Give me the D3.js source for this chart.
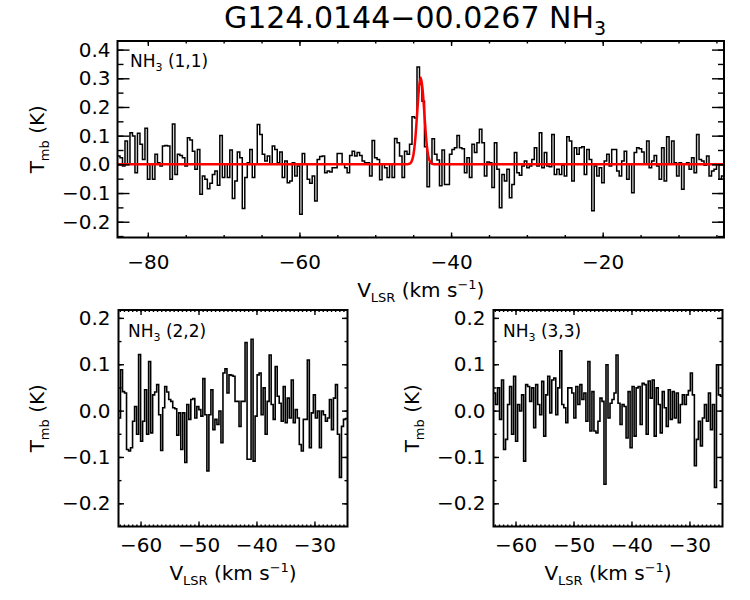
<!DOCTYPE html>
<html><head><meta charset="utf-8">
<script src="https://cdn.jsdelivr.net/npm/d3@7"></script>
<style>
body{margin:0;background:#fff}
text{font-family:"DejaVu Sans",sans-serif;fill:#000}
</style></head>
<body><svg id="c" width="750" height="600"></svg>
<script>
// ---------- data ----------
const title = "G124.0144\u221200.0267 NH";
// NH3 (1,1): channels from -84 to -4 km/s
const v11Range = [-84, -4];
const t11 = [
0.029,0.023,-0.006,0.081,0,0.110,0.099,-0.029,0.108,0.070,0.017,0.126,-0.052,0,-0.052,0.035,0.006,-0.006,0.064,0.066,
0.064,-0.052,0.141,-0.035,0.035,0.031,0.023,-0.006,0.093,0.085,0.046,-0.017,0.052,-0.104,-0.041,-0.052,-0.085,-0.066,-0.035,-0.023,
-0.073,0.101,-0.046,0,-0.046,0.050,-0.119,-0.058,0.043,0.023,-0.154,-0.046,0.006,0.052,-0.046,0,0.139,0.104,0.035,0.012,
0.029,0,0.064,0.052,0.006,0.043,-0.046,0.012,-0.064,-0.058,0.006,-0.041,-0.006,-0.174,0.038,0,-0.052,-0.066,-0.041,-0.128,
0.017,0.027,0.029,-0.029,-0.023,
-0.027,-0.012,-0.012,0.038,0.038,0,-0.012,-0.029,0.031,0.046,0.029,0.041,0.031,0.012,0.006,0.006,-0.041,0.083,0.023,0.017,
-0.054,0,-0.012,-0.046,0,-0.046,0.090,0.075,0.029,-0.046,0.046,0.035,0.070,0.166,0.162,0.339,0.278,0.220,0.061,-0.078,
0.006,0.089,0.035,0.015,-0.075,0.050,-0.070,-0.070,0.035,0.052,0.058,0.101,0.058,0.054,-0.029,0.023,-0.046,0.070,0.041,0.075,
0.122,0.075,-0.041,0.008,0.006,-0.081,0.075,-0.017,-0.151,-0.035,-0.058,-0.017,-0.116,-0.070,0.041,-0.029,-0.038,-0.006,0.012,-0.012,
-0.006,0.017,0.058,-0.006,0.110,-0.012,0.041,-0.006,-0.008,0.104,-0.035,-0.017,-0.035,-0.003,-0.041,0.096,0.081,-0.058,0.058,0.035,
0.058,0.061,-0.035,0.052,0.017,-0.162,-0.006,-0.041,-0.012,-0.064,0.012,0.035,-0.006,0.052,0.052,-0.023,-0.041,0.012,0.046,-0.052,
0,-0.099,0.041,0.058,0.054,0.043,0,0.081,-0.012,0.012,0.031,-0.006,-0.052,0.058,-0.058,0.096,0,0.081,0.006,-0.041,
0.006,-0.087,0,0.006,-0.017,0.023,-0.029,0.104,0.017,0.012,-0.003,0.029,-0.041,-0.023,-0.017,0,-0.052,-0.041
];
// Gaussian fit to NH3 (1,1)
const fitV = [-84,-46,-45.5,-45.25,-45,-44.75,-44.5,-44.25,-44,-43.75,-43.5,-43.25,-43,-42.75,-42.5,-42,-4];
const fitT = [0,0,0.002,0.008,0.028,0.08,0.168,0.26,0.303,0.26,0.168,0.08,0.028,0.008,0.002,0,0];

// NH3 (2,2) and (3,3): channels from -63.8 to -24.3 km/s
const vLowRange = [-63.8, -24.3];
const t22 = [
-0.016,0.088,0.041,0.038,-0.084,-0.087,-0.080,-0.023,0.009,-0.051,0.121,-0.066,-0.023,0.045,-0.051,0.106,-0.048,0.034,0.040,0.056,
-0.009,-0.086,0.006,0.052,0.040,0.024,0.020,0.006,0.004,-0.053,-0.005,-0.084,-0.005,-0.112,0.013,-0.019,0.024,0.026,-0.016,0.009,
0.002,-0.012,0.069,-0.009,-0.130,-0.009,0.045,-0.041,-0.019,-0.030,-0.001,-0.069,0.081,0.090,0.038,0.077,0.076,0.074,0.020,0.020,
-0.034,0.020,0.020,0.147,-0.105,-0.105,0.154,-0.109,-0.012,0.077,0.081,-0.009,0.049,-0.051,0.020,0.120,0.013,-0.019,0.095,0.031,
0.016,-0.023,0.052,-0.026,0.027,-0.016,0.066,-0.026,0.002,-0.016,-0.073,-0.087,-0.019,-0.019,0.109,-0.080,-0.005,0.034,-0.016,-0.001,
-0.080,-0.001,-0.009,-0.023,-0.016,0.024,-0.041,0.027,0.056,-0.051,-0.144,-0.034,-0.019,-0.017
];
const t33 = [
0.038,0.013,0.049,-0.019,0.066,-0.084,-0.062,0.013,0.052,-0.051,0.074,-0.066,0.013,-0.001,0.034,-0.109,0.056,0.052,0.020,0.049,
-0.037,0.056,0.013,-0.009,0.063,-0.055,0.034,0.074,-0.005,0.066,0.070,-0.009,0.049,0.129,0.013,0.006,-0.026,0.049,0.049,0.038,
-0.016,0.052,0.013,0.056,0.024,0.038,-0.023,0.106,-0.044,0.041,-0.044,-0.048,-0.023,0.027,0.020,-0.159,0.099,-0.016,0.016,0.024,
0.038,0.120,0.016,-0.030,0.013,0.009,-0.059,0.041,-0.080,0.052,-0.055,0.049,0.052,-0.030,0.059,0.056,-0.051,0.064,0.027,0.066,
-0.055,0.049,0.013,-0.048,0.041,0.006,-0.034,0.045,-0.019,0.041,-0.016,0.038,-0.026,0.013,0.034,0.013,0.034,0.043,0.081,0.034,
-0.119,-0.062,-0.023,-0.076,-0.016,0.013,-0.023,0.038,-0.041,0.013,-0.166,0.099,0.034,0.031
];

const xTicksTop = [-80,-60,-40,-20];
const yTicksTop = [0.4,0.3,0.2,0.1,0.0,-0.1,-0.2];
const xTicksLow = [-60,-50,-40,-30];
const yTicksLow = [0.2,0.1,0.0,-0.1,-0.2];

// ---------- drawing ----------
const svg = d3.select("#c");
const FONT = "DejaVu Sans";

function stepPoints(vals, range){
  const n = vals.length, dv = (range[1]-range[0])/n;
  const pts = vals.map((t,i)=>[range[0]+i*dv, t]);
  pts.push([range[1], vals[n-1]]);
  return pts;
}

function panel(o){
  const x = d3.scaleLinear().domain(o.xDomain).range([o.x0, o.x0+o.w]);
  const y = d3.scaleLinear().domain(o.yDomain).range([o.y0+o.h, o.y0]);
  const id = "clip"+o.id;
  svg.append("clipPath").attr("id",id).append("rect")
    .attr("x",o.x0).attr("y",o.y0).attr("width",o.w).attr("height",o.h);
  const g = svg.append("g");
  const plot = g.append("g").attr("clip-path",`url(#${id})`);
  plot.append("path").datum(stepPoints(o.data, o.vRange))
    .attr("fill","none").attr("stroke","#000").attr("stroke-width",o.lw)
    .attr("d", d3.line().x(d=>x(d[0])).y(d=>y(d[1])).curve(d3.curveStepAfter));
  if (o.fitV){
    plot.append("path").datum(o.fitV.map((v,i)=>[v,o.fitT[i]]))
      .attr("fill","none").attr("stroke","#ff0000").attr("stroke-width",2.5)
      .attr("d", d3.line().x(d=>x(d[0])).y(d=>y(d[1])).curve(d3.curveMonotoneX));
  }
  const xMinor = d3.range(-100, 0.001, o.xMinorStep).filter(v=>v>o.xDomain[0]&&v<o.xDomain[1]);
  const yMinor = d3.range(-0.3, 0.5, 0.05).filter(v=>v>o.yDomain[0]&&v<o.yDomain[1]);
  const style = s => s.attr("font-size",o.fs).attr("font-family",FONT)
      .call(a=>a.select(".domain").remove())
      .call(a=>a.selectAll("line").attr("stroke","#000").attr("stroke-width",1.4))
      .call(a=>a.selectAll("text").attr("fill","#000"));
  // bottom
  g.append("g").attr("transform",`translate(0,${o.y0+o.h})`)
    .call(d3.axisBottom(x).tickValues(xMinor).tickSize(-o.xMin).tickFormat("")).call(style);
  g.append("g").attr("transform",`translate(0,${o.y0+o.h})`)
    .call(d3.axisBottom(x).tickValues(o.xTicks).tickSize(-o.xMaj).tickPadding(o.xPad).tickFormat(d3.format("d"))).call(style);
  // top
  g.append("g").attr("transform",`translate(0,${o.y0})`)
    .call(d3.axisTop(x).tickValues(xMinor).tickSize(-o.xMin).tickFormat("")).call(style);
  g.append("g").attr("transform",`translate(0,${o.y0})`)
    .call(d3.axisTop(x).tickValues(o.xTicks).tickSize(-o.xMaj).tickFormat("")).call(style);
  // left
  g.append("g").attr("transform",`translate(${o.x0},0)`)
    .call(d3.axisLeft(y).tickValues(yMinor).tickSize(-o.yMin).tickFormat("")).call(style);
  g.append("g").attr("transform",`translate(${o.x0},0)`)
    .call(d3.axisLeft(y).tickValues(o.yTicks).tickSize(-o.yMaj).tickPadding(o.yPad).tickFormat(d3.format(".1f"))).call(style);
  // right
  g.append("g").attr("transform",`translate(${o.x0+o.w},0)`)
    .call(d3.axisRight(y).tickValues(yMinor).tickSize(-o.yMin).tickFormat("")).call(style);
  g.append("g").attr("transform",`translate(${o.x0+o.w},0)`)
    .call(d3.axisRight(y).tickValues(o.yTicks).tickSize(-o.yMaj).tickFormat("")).call(style);
  g.append("rect").attr("x",o.x0).attr("y",o.y0).attr("width",o.w).attr("height",o.h)
    .attr("fill","none").attr("stroke","#000").attr("stroke-width",2);

  // panel label NH3 (J,K)
  const lab = g.append("text").attr("x",o.x0+o.labDx).attr("y",o.y0+o.labDy).attr("font-size",17);
  lab.append("tspan").text("NH");
  lab.append("tspan").attr("font-size",11).attr("dy",4).text("3");
  lab.append("tspan").attr("dy",-4).text(" "+o.label);

  // x title
  const xt = g.append("text").attr("x",o.x0+o.w/2).attr("y",o.xTitleY)
    .attr("text-anchor","middle").attr("font-size",20);
  xt.append("tspan").text("V");
  xt.append("tspan").attr("font-size",13).attr("dy",5).text("LSR");
  xt.append("tspan").attr("dy",-5).text(" (km s");
  xt.append("tspan").attr("font-size",13).attr("dy",-8).text("\u22121");
  xt.append("tspan").attr("dy",8).text(")");

  // y title
  const yt = g.append("text")
    .attr("transform",`translate(${o.yTitleX},${o.y0+o.h/2}) rotate(-90)`)
    .attr("text-anchor","middle").attr("font-size",20);
  yt.append("tspan").text("T");
  yt.append("tspan").attr("font-size",13).attr("dy",5).text("mb");
  yt.append("tspan").attr("dy",-5).text(" (K)");
}

panel({id:1, x0:117.5, y0:41, w:606.5, h:196.5, xDomain:v11Range, yDomain:[-0.255,0.43],
  vRange:v11Range, data:t11, fitV:fitV, fitT:fitT, lw:1.5,
  xTicks:xTicksTop, yTicks:yTicksTop, xMinorStep:5,
  xMaj:5, xMin:2.5, yMaj:12, yMin:6, xPad:17, yPad:7, fs:20,
  label:"(1,1)", labDx:12.5, labDy:25.5, xTitleY:297, yTitleX:44});

panel({id:2, x0:118.5, y0:310, w:229, h:216.5, xDomain:vLowRange, yDomain:[-0.25,0.217],
  vRange:vLowRange, data:t22, lw:1.6,
  xTicks:xTicksLow, yTicks:yTicksLow, xMinorStep:10/14,
  xMaj:5, xMin:2, yMaj:5.5, yMin:3, xPad:11, yPad:8, fs:20,
  label:"(2,2)", labDx:9.5, labDy:26.5, xTitleY:580, yTitleX:44});

panel({id:3, x0:493.5, y0:310, w:229, h:216.5, xDomain:vLowRange, yDomain:[-0.25,0.217],
  vRange:vLowRange, data:t33, lw:1.6,
  xTicks:xTicksLow, yTicks:yTicksLow, xMinorStep:10/14,
  xMaj:5, xMin:2, yMaj:5.5, yMin:3, xPad:11, yPad:8, fs:20,
  label:"(3,3)", labDx:9.5, labDy:26.5, xTitleY:580, yTitleX:419});

// main title
const tt = svg.append("text").attr("x",415).attr("y",28).attr("text-anchor","middle").attr("font-size",30);
tt.append("tspan").text(title);
tt.append("tspan").attr("font-size",19).attr("dy",7).text("3");
</script>
</body></html>
